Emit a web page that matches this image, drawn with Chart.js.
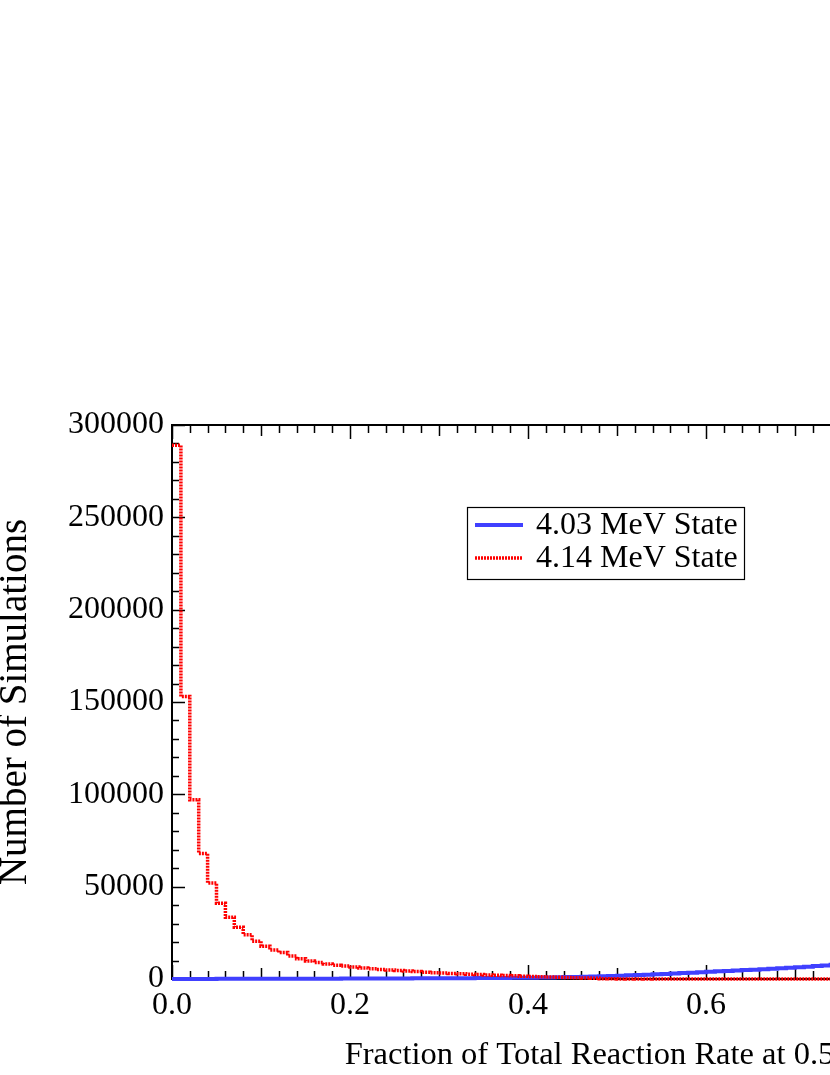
<!DOCTYPE html>
<html>
<head>
<meta charset="utf-8">
<script src="https://cdn.jsdelivr.net/npm/chart.js@4.4.1/dist/chart.umd.min.js"></script>
<style>
  html, body { margin: 0; padding: 0; background: #fff; overflow: hidden; }
  #wrap { width: 1110px; height: 1075px; }
</style>
</head>
<body>
<div id="wrap"><canvas id="c" width="1110" height="1075"></canvas></div>
<script>
// ---- data ----
const binWidth = 0.01;           // histogram bin width (fraction)
const seriesLabels = ['4.03 MeV State', '4.14 MeV State'];
const xTickLabels = ['0.0', '0.2', '0.4', '0.6', '0.8', '1.0'];
const yTickLabels = ['0', '50000', '100000', '150000', '200000', '250000', '300000'];

// counts per bin, bins starting at 0.00, 0.01, 0.02, ...
const blueCounts = [
  20, 30, 40, 50, 60, 70, 80, 90, 100, 110,
  120, 130, 140, 150, 160, 170, 180, 190, 200, 215,
  230, 245, 260, 275, 290, 305, 320, 340, 360, 380,
  400, 420, 440, 465, 490, 515, 545, 580, 620, 660,
  700, 780, 860, 940, 1030, 1120, 1220, 1330, 1450, 1620,
  1800, 1970, 2150, 2340, 2540, 2750, 2970, 3200, 3440, 3690,
  3950, 4160, 4380, 4600, 4820, 5050, 5280, 5520, 5770, 6030,
  6300, 6640, 6980, 7330, 7700, 8080, 8470, 8870, 9290, 9720,
  10170, 10640, 11130, 11640, 12170
];
const redCounts = [
  289000, 153000, 97000, 68000, 52000, 41000, 33500, 28000, 24000, 20500,
  17800, 15700, 14300, 12500, 11000, 9800, 8900, 8100, 7500, 7000,
  6500, 6000, 5600, 5200, 4900, 4600, 4300, 4000, 3700, 3400,
  3200, 3000, 2800, 2600, 2400, 2200, 2000, 1850, 1700, 1550,
  1400, 1250, 1100, 950, 800, 650, 500, 350, 200, 100,
  50, 30, 20, 10, 0, 0, 0, 0, 0, 0,
  0, 0, 0, 0, 0, 0, 0, 0, 0, 0,
  0, 0, 0, 0, 0, 0, 0, 0, 0, 0,
  0, 0, 0, 0, 0
];

function toSteps(counts) {
  const pts = counts.map((v, i) => ({ x: i * binWidth, y: v }));
  pts.push({ x: counts.length * binWidth, y: counts[counts.length - 1] });
  return pts;
}

const FONT = '"Liberation Serif", "Times New Roman", serif';
const BLUE = '#4040ff';
const RED = '#ff0000';

const framePlugin = {
  id: 'frame',
  beforeDatasetsDraw(chart) {
    const { ctx, chartArea: a, scales } = chart;
    const xs = scales.x, ys = scales.y;
    ctx.save();
    ctx.strokeStyle = '#000';
    ctx.lineWidth = 2;
    ctx.strokeRect(a.left, a.top, a.right - a.left, a.bottom - a.top);
    ctx.lineWidth = 1.5;
    ctx.beginPath();
    // x ticks (inward, top and bottom)
    for (let k = 0; k <= 50; k++) {
      const px = Math.round(xs.getPixelForValue(k * 0.02)) + 0.5;
      const len = (k % 10 === 0) ? 14 : (k % 5 === 0 ? 11 : 8);
      ctx.moveTo(px, a.bottom); ctx.lineTo(px, a.bottom - len);
      ctx.moveTo(px, a.top); ctx.lineTo(px, a.top + len);
    }
    // y ticks (inward, left and right)
    for (let k = 0; k <= 30; k++) {
      const py = Math.round(ys.getPixelForValue(k * 10000)) + 0.5;
      const len = (k % 5 === 0) ? 13 : 7;
      ctx.moveTo(a.left, py); ctx.lineTo(a.left + len, py);
      ctx.moveTo(a.right, py); ctx.lineTo(a.right - len, py);
    }
    ctx.stroke();
    ctx.restore();
  },
  afterDatasetsDraw(chart) {
    const { ctx } = chart;
    ctx.save();
    // legend
    const bx = 467.5, by = 507.5, bw = 277, bh = 72;
    ctx.fillStyle = '#fff';
    ctx.fillRect(bx, by, bw, bh);
    ctx.lineWidth = 1.2;
    ctx.strokeStyle = '#000';
    ctx.strokeRect(bx, by, bw, bh);
    const rows = [525, 558];
    chart.data.datasets.forEach((ds, i) => {
      const y = rows[i];
      ctx.beginPath();
      ctx.strokeStyle = ds.borderColor;
      ctx.lineWidth = ds.borderWidth;
      ctx.setLineDash(ds.borderDash || []);
      ctx.moveTo(475, y); ctx.lineTo(523, y);
      ctx.stroke();
      ctx.setLineDash([]);
      ctx.fillStyle = '#000';
      ctx.font = '32px ' + FONT;
      ctx.textBaseline = 'middle';
      ctx.textAlign = 'left';
      ctx.fillText(ds.label, 536, y + 1);
    });
    ctx.restore();
  }
};

new Chart(document.getElementById('c'), {
  type: 'line',
  data: {
    datasets: [
      {
        label: seriesLabels[0],
        data: toSteps(blueCounts),
        borderColor: BLUE,
        borderWidth: 4,
        stepped: true,
        pointRadius: 0,
        fill: false,
        clip: false,
        order: 1
      },
      {
        label: seriesLabels[1],
        data: toSteps(redCounts),
        borderColor: RED,
        borderWidth: 3.5,
        borderDash: [2, 1],
        stepped: true,
        pointRadius: 0,
        fill: false,
        clip: false,
        order: 0
      }
    ]
  },
  options: {
    responsive: false,
    animation: false,
    layout: { padding: { top: 425, right: 48, left: 0, bottom: 0 } },
    plugins: { legend: { display: false }, tooltip: { enabled: false } },
    scales: {
      x: {
        type: 'linear', min: 0, max: 1,
        grid: { display: false },
        border: { display: false },
        ticks: {
          stepSize: 0.2,
          padding: -1,
          color: '#000',
          font: { family: FONT, size: 32 },
          callback: (v) => { const i = Math.round(v / 0.2); return xTickLabels[i]; }
        },
        title: {
          display: true,
          text: 'Fraction of Total Reaction Rate at 0.5 GK',
          color: '#000',
          font: { family: FONT, size: 32.5 },
          padding: { top: 14, bottom: 0 }
        },
        afterFit: (s) => { s.height = 96; }
      },
      y: {
        type: 'linear', min: 0, max: 300000,
        grid: { display: false },
        border: { display: false },
        ticks: {
          stepSize: 50000,
          padding: 0,
          color: '#000',
          font: { family: FONT, size: 32 },
          callback: (v) => yTickLabels[Math.round(v / 50000)]
        },
        title: {
          display: true,
          text: 'Number of Simulations',
          color: '#000',
          font: { family: FONT, size: 39, lineHeight: 0.8 },
          padding: 0
        },
        afterFit: (s) => { s.width = 172; }
      }
    }
  },
  plugins: [framePlugin]
});
</script>
</body>
</html>
